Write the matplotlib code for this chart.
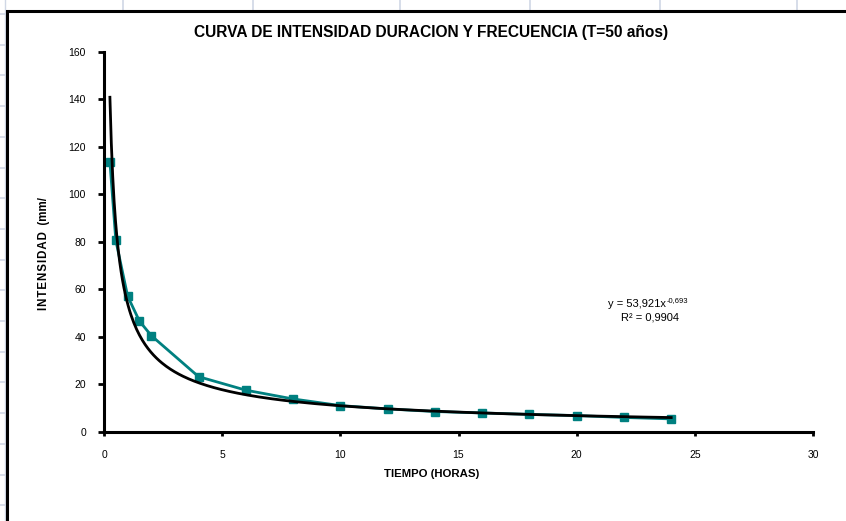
import numpy as np
import matplotlib; matplotlib.use("Agg")
import matplotlib.pyplot as plt

# duration (h) vs. intensity for T = 50 years
tiempo = [0.25, 0.5, 1, 1.5, 2, 4, 6, 8, 10, 12, 14, 16, 18, 20, 22, 24]
intensidad = [113.7, 80.6, 57.1, 46.6, 40.5, 23.2, 17.5, 13.8, 11.0, 9.6, 8.5, 7.9, 7.3, 6.8, 6.0, 5.4]

# power-law trendline fitted in the workbook
coef_a, coef_b, r2 = 53.921, -0.693, 0.9904

plt.rcParams.update({"font.family": "Liberation Sans"})
TEAL = "#008080"
GRID = "#d0d7e5"

W, H = 846, 521
fig = plt.figure(figsize=(W / 100, H / 100), dpi=100)

# sheet cells behind the chart object
bg = fig.add_axes([0, 0, 1, 1])
bg.set_xlim(0, W); bg.set_ylim(H, 0); bg.axis("off")
for x in (123, 253, 400, 530, 660, 797):
    bg.plot([x, x], [0, 11], color=GRID, lw=1.2)
for y in np.arange(14, H, 30.7):
    bg.plot([0, 7], [y, y], color=GRID, lw=1.2)
bg.plot([5, 5], [0, H], color=GRID, lw=1.0)
bg.plot([7, 7, W + 5], [H + 5, 11, 11], color="black", lw=2.2, solid_joinstyle="miter")

ax = fig.add_axes([104 / W, 1 - 431.7 / H, (813 - 104) / W, (431.7 - 52) / H])
ax.set_facecolor("none")

xs = np.linspace(min(tiempo), max(tiempo), 400)
ax.plot(xs, coef_a * xs ** coef_b, color="black", lw=2.0, zorder=3)
ax.plot(tiempo, intensidad, color=TEAL, lw=2.0, marker="s", ms=5.5, mfc=TEAL, mec=TEAL, zorder=2)

ax.set_xlim(0, 30); ax.set_ylim(0, 160)
ax.set_xticks(range(0, 31, 5)); ax.set_yticks(range(0, 161, 20))
for s in ("top", "right"):
    ax.spines[s].set_visible(False)
for s in ("left", "bottom"):
    ax.spines[s].set_linewidth(2.2)
ax.tick_params(axis="y", direction="out", length=4, width=2, pad=9, labelsize=7.5)
ax.tick_params(axis="x", direction="out", length=3, width=2, pad=10, labelsize=7.5)

fig.text(431 / W, 1 - 33 / H, "CURVA DE INTENSIDAD DURACION Y FRECUENCIA (T=50 años)",
         ha="center", va="center", fontsize=11.2, fontweight="bold")
ylab = "\u200a".join("INTENSIDAD") + "  (mm/"
fig.text(44 / W, 1 - 254 / H, ylab, rotation=90, ha="center", va="center",
         fontsize=8.3, fontweight="bold")
fig.text(432 / W, 1 - 474 / H, "TIEMPO (HORAS)", ha="center", va="center",
         fontsize=8.2, fontweight="bold")

# trendline equation, exponent drawn as a raised smaller label
eq = fig.text(608 / W, 1 - 304 / H, f"y = {coef_a:.3f}x".replace(".", ","),
              ha="left", va="center", fontsize=8)
fig.canvas.draw()
bb = eq.get_window_extent()
fig.text(bb.x1 / W + 0.5 / W, 1 - 304 / H, f"{coef_b:.3f}".replace(".", ","),
         ha="left", va="bottom", fontsize=5.5)
fig.text(650 / W, 1 - 318 / H, f"R² = {r2:.4f}".replace(".", ","),
         ha="center", va="center", fontsize=8)

fig.savefig("out.png", dpi=100)
